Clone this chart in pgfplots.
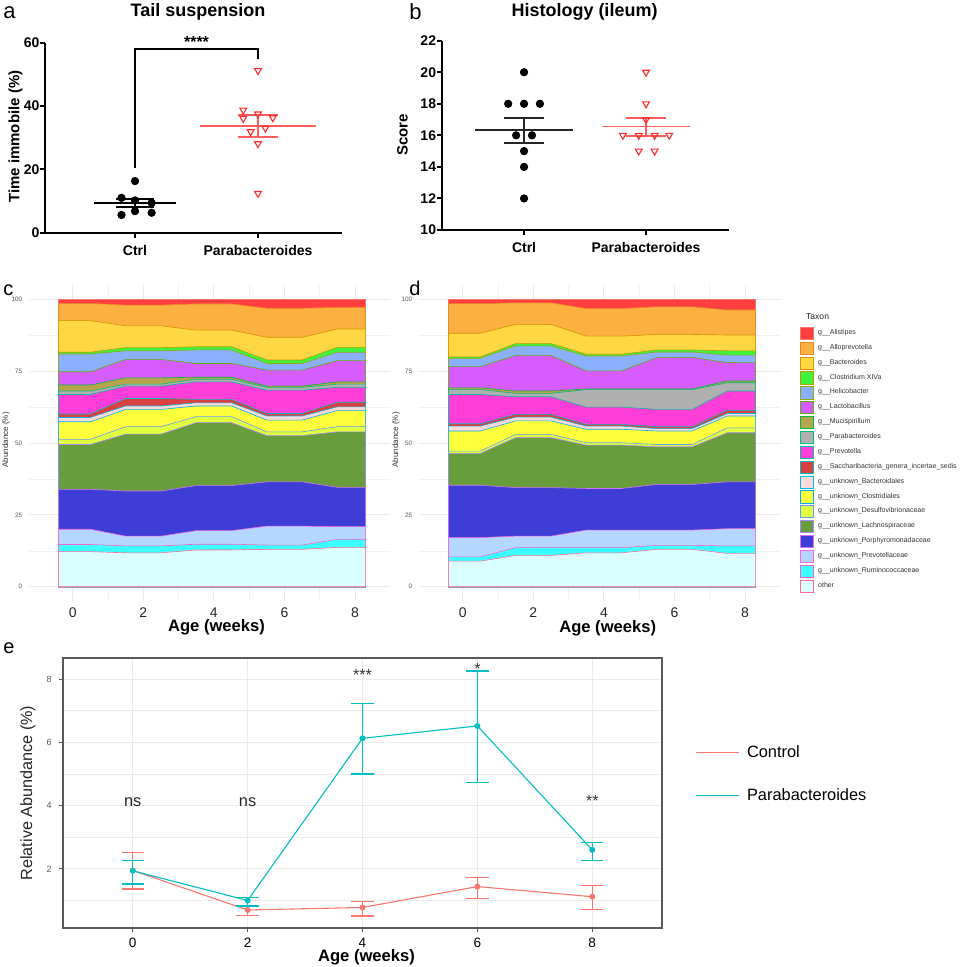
\documentclass[border=0pt]{standalone}
\usepackage{fontspec}
\setmainfont{Liberation Sans}
\usepackage{pgfplots}
\usepackage{pgfplotstable}
\pgfplotsset{compat=1.18}
\pgfplotsset{/pgf/number format/assume math mode=true}
\newcommand{\fs}[1]{\fontsize{#1}{#1}\selectfont}

\definecolor{ctrl}{HTML}{F8766D}
\definecolor{para}{HTML}{00BFC4}
\definecolor{tri}{HTML}{FF2B2B}
\definecolor{pmean}{HTML}{FF5C5C}
\definecolor{gridc}{HTML}{EBEBEB}
\definecolor{fAli}{HTML}{FF3F3F}
\definecolor{fAll}{HTML}{FBB040}
\definecolor{fBac}{HTML}{FFD643}
\definecolor{fClo}{HTML}{3EF23E}
\definecolor{fHel}{HTML}{8AAFFF}
\definecolor{fLac}{HTML}{D75CFF}
\definecolor{fMuc}{HTML}{B7A54E}
\definecolor{fPar}{HTML}{B0B0B0}
\definecolor{fPre}{HTML}{FF3DD8}
\definecolor{fSac}{HTML}{D9403F}
\definecolor{fuBa}{HTML}{FFD8D8}
\definecolor{fuCl}{HTML}{FFFF3C}
\definecolor{fuDe}{HTML}{DFFF3F}
\definecolor{fuLa}{HTML}{679D3B}
\definecolor{fuPo}{HTML}{3E3ED6}
\definecolor{fuPr}{HTML}{B5D7FF}
\definecolor{fuRu}{HTML}{3CFFFF}
\definecolor{foth}{HTML}{D9FFFF}
\definecolor{oAli}{HTML}{F8766D}
\definecolor{oAll}{HTML}{E88526}
\definecolor{oBac}{HTML}{D39200}
\definecolor{oClo}{HTML}{B79F00}
\definecolor{oHel}{HTML}{93AA00}
\definecolor{oLac}{HTML}{5EB300}
\definecolor{oMuc}{HTML}{00BA38}
\definecolor{oPar}{HTML}{00BF74}
\definecolor{oPre}{HTML}{00C19F}
\definecolor{oSac}{HTML}{00BFC4}
\definecolor{ouBa}{HTML}{00B9E3}
\definecolor{ouCl}{HTML}{00ADFA}
\definecolor{ouDe}{HTML}{619CFF}
\definecolor{ouLa}{HTML}{AE87FF}
\definecolor{ouPo}{HTML}{DB72FB}
\definecolor{ouPr}{HTML}{F564E3}
\definecolor{ouRu}{HTML}{FF61C3}
\definecolor{ooth}{HTML}{FF6C91}

% cumulative tops of each taxon (panel c, control)
\pgfplotstableread{
x Ali All Bac Clo Hel Lac Muc Par Pre Sac uBa uCl uDe uLa uPo uPr uRu oth
-0.4 100 98.6 92.6 81.6 81.0 74.8 70.2 68.1 66.9 60.1 58.9 57.4 51.3 49.5 33.9 20.0 14.7 12.2
0.5 100 98.6 92.6 81.6 81.0 74.8 70.2 68.1 66.9 60.1 58.9 57.4 51.3 49.5 33.9 20.0 14.7 12.2
1.5 100 98.0 90.8 83.2 82.1 79.1 72.7 70.5 69.8 65.5 62.9 61.7 55.7 53.1 33.3 17.6 14.2 11.8
2.5 100 98.0 90.8 83.2 82.1 79.1 72.7 70.5 69.8 65.5 62.9 61.7 55.7 53.1 33.3 17.6 14.2 11.8
3.5 100 98.4 89.3 83.5 82.4 77.7 72.9 72.2 71.3 65.2 64.0 62.9 59.2 57.1 35.2 19.5 14.8 12.8
4.5 100 98.4 89.3 83.5 82.4 77.7 72.9 72.2 71.3 65.2 64.0 62.9 59.2 57.1 35.2 19.5 14.8 12.8
5.5 100 96.9 86.8 78.9 77.7 75.4 69.8 69.4 68.4 60.3 59.4 58.0 53.9 52.6 36.5 21.1 14.5 13.0
6.5 100 96.9 86.8 78.9 77.7 75.4 69.8 69.4 68.4 60.3 59.4 58.0 53.9 52.6 36.5 21.1 14.5 13.0
7.5 100 97.2 89.7 83.3 81.6 78.7 71.3 70.5 69.4 64.2 62.6 61.3 55.7 53.9 34.6 20.9 16.5 13.7
8.3 100 97.2 89.7 83.3 81.6 78.7 71.3 70.5 69.4 64.2 62.6 61.3 55.7 53.9 34.6 20.9 16.5 13.7
}\tabc
% panel d
\pgfplotstableread{
x Ali All Bac Clo Hel Lac Muc Par Pre Sac uBa uCl uDe uLa uPo uPr uRu oth
-0.4 100 98.5 88.2 80.0 79.5 76.6 69.2 68.6 66.9 56.7 55.9 54.2 47.2 46.4 35.3 17.1 10.4 8.9
0.5 100 98.5 88.2 80.0 79.5 76.6 69.2 68.6 66.9 56.7 55.9 54.2 47.2 46.4 35.3 17.1 10.4 8.9
1.5 100 98.8 91.3 84.6 83.8 80.5 68.1 67.3 66.1 60.0 59.0 57.7 53.0 51.9 34.5 17.6 13.6 10.9
2.5 100 98.8 91.3 84.6 83.8 80.5 68.1 67.3 66.1 60.0 59.0 57.7 53.0 51.9 34.5 17.6 13.6 10.9
3.5 100 96.8 87.2 80.9 80.3 75.1 68.8 68.6 62.5 56.5 55.9 54.8 50.1 49.3 34.2 19.7 13.6 11.8
4.5 100 96.8 87.2 80.9 80.3 75.1 68.8 68.6 62.5 56.5 55.9 54.8 50.1 49.3 34.2 19.7 13.6 11.8
5.5 100 97.4 87.8 82.4 81.7 79.8 68.8 68.6 61.7 55.7 55.0 54.2 49.5 48.7 35.6 19.7 14.4 13.0
6.5 100 97.4 87.8 82.4 81.7 79.8 68.8 68.6 61.7 55.7 55.0 54.2 49.5 48.7 35.6 19.7 14.4 13.0
7.5 100 96.3 87.6 82.1 80.6 78.0 71.6 71.0 68.1 61.4 60.3 59.4 55.3 53.6 36.5 20.2 14.2 11.6
8.3 100 96.3 87.6 82.1 80.6 78.0 71.6 71.0 68.1 61.4 60.3 59.4 55.3 53.6 36.5 20.2 14.2 11.6
}\tabd
% panel e
\pgfplotstableread{
t c cp cm p pp pm
0 1.95 0.56 0.59 1.94 0.32 0.42
2 0.70 0.13 0.17 1.00 0.10 0.17
4 0.78 0.19 0.27 6.13 1.09 1.13
6 1.44 0.28 0.37 6.52 1.74 1.79
8 1.12 0.36 0.40 2.60 0.24 0.34
}\tabe

\newcommand{\taxarea}[2]{\addplot[fill=f#1, draw=o#1, line width=0.3pt] table[x=x, y=#1] {#2} \closedcycle;}
\newcommand{\allareas}[1]{%
\taxarea{Ali}{#1}\taxarea{All}{#1}\taxarea{Bac}{#1}\taxarea{Clo}{#1}\taxarea{Hel}{#1}\taxarea{Lac}{#1}%
\taxarea{Muc}{#1}\taxarea{Par}{#1}\taxarea{Pre}{#1}\taxarea{Sac}{#1}\taxarea{uBa}{#1}\taxarea{uCl}{#1}%
\taxarea{uDe}{#1}\taxarea{uLa}{#1}\taxarea{uPo}{#1}\taxarea{uPr}{#1}\taxarea{uRu}{#1}\taxarea{oth}{#1}}

\pgfplotsset{
  prism/.style={
    scale only axis, axis x line*=bottom, axis y line*=left,
    axis line style={line width=1pt, -},
    tick align=outside, major tick length=2.6pt,
    tick style={line width=1pt, black},
    ticklabel style={font=\bfseries\fs{7}},
    yticklabel style={xshift=3.3pt},
    xtick={1,2}, xticklabels={Ctrl,Parabacteroides},
    clip=false,
  },
  stream/.style={
    scale only axis, width=180.35pt, height=158.05pt,
    xmin=-1.23, xmax=8.99, ymin=-5, ymax=105,
    axis line style={draw=none}, tick style={draw=none},
    xtick={0,2,4,6,8}, minor xtick={1,3,5,7},
    ytick={0,25,50,75,100}, minor ytick={12.5,37.5,62.5,87.5},
    grid=both, major grid style={color=gridc, line width=0.5pt},
    minor grid style={color=gridc!70, line width=0.3pt},
    xticklabel style={font=\fs{7}, color=black!85},
    yticklabel style={font=\fs{3.2}, color=black!65},
    xlabel={Age (weeks)}, ylabel={Abundance (\%)},
  },
}

\begin{document}
\begin{tikzpicture}[x=0.5pt,y=-0.5pt]
\path[use as bounding box] (0,0) rectangle (960,967);
\coordinate (Ao) at (45,232.7);
\coordinate (Bo) at (441.7,230);
\coordinate (Co) at (29.3,601.1);
\coordinate (Do) at (419.3,601.1);
\coordinate (Eo) at (62.7,928.3);

% ---------------- panel a
\begin{axis}[prism, at={(Ao)}, anchor=south west,
  width=148.5pt, height=95pt,
  xmin=0.268, xmax=2.683, ymin=0, ymax=60, ytick={0,20,40,60},
  ylabel={Time immobile (\%)},
  every axis y label/.style={at={(axis description cs:-0.0993,0.505)}, rotate=90, anchor=center, font=\bfseries\fs{7.5}},
]
\addplot[only marks, mark=*, mark size=1.85pt, black] coordinates
  {(1,16.3) (0.89,11.0) (1,10.2) (1.135,9.4) (1,6.8) (1.135,6.3) (0.89,5.6)};
\addplot[only marks, mark=triangle, mark size=1.95pt, color=tri, mark options={rotate=180, line width=0.55pt}] coordinates
  {(2,51.2) (1.88,38.7) (2,37.5) (1.88,36.1) (2.12,36.3) (2.06,33.0) (1.94,31.9) (2,28.1) (2,12.4)};
\addplot[black, line width=1pt] coordinates {(0.667,9.37) (1.333,9.37)};
\addplot[black, line width=1pt] coordinates {(0.846,10.5) (1.154,10.5)};
\addplot[black, line width=1pt] coordinates {(0.846,8.2) (1.154,8.2)};
\addplot[black, line width=1pt] coordinates {(1,8.2) (1,10.5)};
\addplot[pmean, line width=0.9pt] coordinates {(1.53,33.7) (2.47,33.7)};
\addplot[pmean, line width=0.9pt] coordinates {(1.835,37.05) (2.165,37.05)};
\addplot[pmean, line width=0.9pt] coordinates {(1.835,30.2) (2.165,30.2)};
\addplot[pmean, line width=0.9pt] coordinates {(2,30.2) (2,37.05)};
\addplot[black, line width=1.1pt] coordinates {(1,20.5) (1,58) (2,58) (2,55)};
\node[anchor=base, font=\bfseries\fs{8}] at (axis cs:1.5,58.6) {****};
\end{axis}

% ---------------- panel b
\begin{axis}[prism, at={(Bo)}, anchor=south west,
  width=143.65pt, height=94.65pt,
  xmin=0.325, xmax=2.68, ymin=10, ymax=22, ytick={10,12,14,16,18,20,22},
  ylabel={Score},
  every axis y label/.style={at={(axis description cs:-0.1364,0.502)}, rotate=90, anchor=center, font=\bfseries\fs{7.5}},
]
\addplot[only marks, mark=*, mark size=1.85pt, black] coordinates
  {(1,20) (0.87,18) (1,18) (1.13,18) (0.935,16) (1.065,16) (1,15) (1,14) (1,12)};
\addplot[only marks, mark=triangle, mark size=1.95pt, color=tri, mark options={rotate=180, line width=0.55pt}] coordinates
  {(2,20) (2,18) (2,17) (1.81,16) (1.94,16) (2.07,16) (2.19,16) (1.94,15) (2.07,15)};
\addplot[black!85, line width=1pt] coordinates {(0.6,16.33) (1.4,16.33)};
\addplot[black!85, line width=1pt] coordinates {(0.836,17.1) (1.164,17.1)};
\addplot[black!85, line width=1pt] coordinates {(0.836,15.5) (1.164,15.5)};
\addplot[black!85, line width=1pt] coordinates {(1,15.5) (1,17.1)};
\addplot[pmean, line width=0.9pt] coordinates {(1.64,16.56) (2.36,16.56)};
\addplot[pmean, line width=0.9pt] coordinates {(1.836,17.08) (2.164,17.08)};
\addplot[pmean, line width=0.9pt] coordinates {(1.836,15.98) (2.164,15.98)};
\addplot[pmean, line width=0.9pt] coordinates {(2,15.98) (2,17.08)};
\end{axis}

% ---------------- panel c
\begin{axis}[stream, at={(Co)}, anchor=south west,
  every axis x label/.style={at={(axis description cs:0.519,-0.0829)}, anchor=center, font=\bfseries\fs{8.3}},
  every axis y label/.style={at={(axis description cs:-0.0646,0.51)}, rotate=90, anchor=center, font=\fs{4}, color=black!80},
]
\allareas{\tabc}
\end{axis}

% ---------------- panel d
\begin{axis}[stream, at={(Do)}, anchor=south west,
  every axis x label/.style={at={(axis description cs:0.5223,-0.0851)}, anchor=center, font=\bfseries\fs{8.3}},
  every axis y label/.style={at={(axis description cs:-0.0646,0.51)}, rotate=90, anchor=center, font=\fs{4}, color=black!80},
  legend entries={g\_\_Alistipes, g\_\_Alloprevotella, g\_\_Bacteroides, g\_\_Clostridium XIVa,
    g\_\_Helicobacter, g\_\_Lactobacillus, g\_\_Mucispirillum, g\_\_Parabacteroides, g\_\_Prevotella,
    g\_\_Saccharibacteria\_genera\_incertae\_sedis, g\_\_unknown\_Bacteroidales, g\_\_unknown\_Clostridiales,
    g\_\_unknown\_Desulfovibrionaceae, g\_\_unknown\_Lachnospiraceae, g\_\_unknown\_Porphyromonadaceae,
    g\_\_unknown\_Prevotellaceae, g\_\_unknown\_Ruminococcaceae, other},
  legend cell align=left,
  legend image code/.code={\draw[#1, line width=0.5pt] (0pt,-3.05pt) rectangle (6.1pt,3.05pt);},
  legend style={at={(axis description cs:1.0555,0.8687)}, anchor=north west, draw=none, fill=none,
    font=\fs{3.5}, text=black!80, row sep=0.83pt, inner sep=0pt, nodes={inner sep=0pt},
    /tikz/every odd column/.append style={column sep=2.3pt}},
]
\allareas{\tabd}
\end{axis}
\node[anchor=west, font=\fs{4.3}, text=black!85] at (799,316.7) {Taxon};

% ---------------- panel e
\begin{axis}[at={(Eo)}, anchor=south west, scale only axis,
  width=299.8pt, height=135pt,
  xmin=-1.22, xmax=9.22, ymin=0.12, ymax=8.66,
  xtick={0,2,4,6,8}, ytick={2,4,6,8}, minor ytick={1,3,5,7},
  xmajorgrids, ymajorgrids, yminorgrids,
  major grid style={color=gridc, line width=0.6pt}, minor grid style={color=gridc, line width=0.4pt},
  axis line style={color=black!65, line width=0.9pt},
  tick align=outside, major tick length=2pt, minor tick length=0pt,
  tick style={color=black!65, line width=0.5pt},
  xtick pos=bottom, ytick pos=left,
  xticklabel style={font=\fs{6.8}, color=black, yshift=0.6pt},
  yticklabel style={font=\fs{4.5}, color=black!65},
  xlabel={Age (weeks)}, ylabel={Relative Abundance (\%)},
  every axis x label/.style={at={(axis description cs:0.5067,-0.108)}, anchor=center, font=\bfseries\fs{8.3}},
  every axis y label/.style={at={(axis description cs:-0.0579,0.501)}, rotate=90, anchor=center, font=\fs{8.1}, color=black!85},
  legend cell align=left,
  legend image code/.code={\draw[#1] (0pt,0pt) -- (21.3pt,0pt);},
  legend style={at={(axis description cs:1.0545,0.571)}, anchor=west, draw=none, fill=none,
    font=\fs{8.2}, row sep=14pt, inner sep=0pt, nodes={inner sep=0pt},
    /tikz/every odd column/.append style={column sep=3.8pt}},
  clip=false,
]
\addplot[forget plot, color=ctrl, line width=0.55pt, mark=*, mark size=1.2pt,
  error bars/.cd, y dir=both, y explicit, error bar style={color=ctrl, line width=0.65pt},
  error mark=-, error mark options={color=ctrl, rotate=90, mark size=5.6pt, line width=0.65pt}]
  table[x=t, y=c, y error plus=cp, y error minus=cm] {\tabe};
\addplot[forget plot, color=para, line width=0.55pt, mark=*, mark size=1.2pt,
  error bars/.cd, y dir=both, y explicit, error bar style={color=para, line width=0.65pt},
  error mark=-, error mark options={color=para, rotate=90, mark size=5.6pt, line width=0.65pt}]
  table[x=t, y=p, y error plus=pp, y error minus=pm] {\tabe};
\addlegendimage{color=ctrl, line width=0.7pt}
\addlegendentry{Control}
\addlegendimage{color=para, line width=0.7pt}
\addlegendentry{Parabacteroides}
\node[font=\fs{8.2}, text=black!85] at (axis cs:0,4.1) {ns};
\node[font=\fs{8.2}, text=black!85] at (axis cs:2,4.1) {ns};
\node[anchor=base, font=\fs{8}, text=black!80] at (axis cs:4,7.95) {***};
\node[anchor=base, font=\fs{8}, text=black!80] at (axis cs:6,8.16) {*};
\node[anchor=base, font=\fs{8}, text=black!80] at (axis cs:8,3.96) {**};
\end{axis}

% titles and panel letters
\node[anchor=base, font=\bfseries\fs{9}] at (198,16.7) {Tail suspension};
\node[anchor=base, font=\bfseries\fs{9}] at (584.5,16.7) {Histology (ileum)};
\node[anchor=base west, font=\fs{11}, inner sep=0pt] at (3,19) {a};
\node[anchor=base west, font=\fs{11}, inner sep=0pt] at (409,20) {b};
\node[anchor=base west, font=\fs{10}, inner sep=0pt] at (3,296) {c};
\node[anchor=base west, font=\fs{10}, inner sep=0pt] at (409,296) {d};
\node[anchor=base west, font=\fs{10}, inner sep=0pt] at (3,653) {e};
\end{tikzpicture}
\end{document}
